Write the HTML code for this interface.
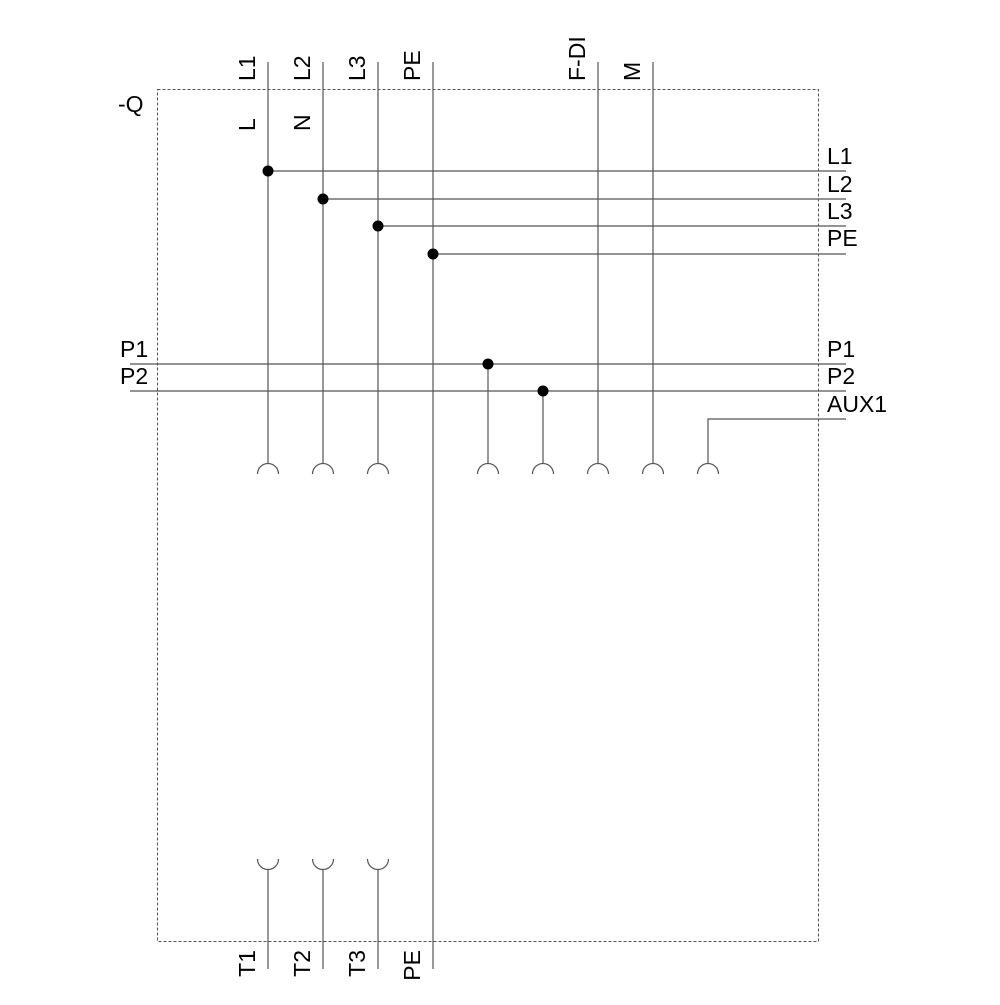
<!DOCTYPE html>
<html><head><meta charset="utf-8"><style>html,body{margin:0;padding:0;background:#fff}</style></head>
<body>
<svg width="1000" height="1000" xmlns="http://www.w3.org/2000/svg" font-family="Liberation Sans, sans-serif" font-size="23">
<rect x="157.5" y="89.5" width="661" height="852" fill="none" stroke="#555" stroke-width="1" stroke-dasharray="3,2"/>
<g stroke="#555" stroke-width="1.2" fill="none">
<line x1="268" y1="62" x2="268" y2="464"/>
<line x1="323" y1="62" x2="323" y2="464"/>
<line x1="378" y1="62" x2="378" y2="464"/>
<line x1="433" y1="62" x2="433" y2="969"/>
<line x1="598" y1="62" x2="598" y2="464"/>
<line x1="653" y1="62" x2="653" y2="464"/>
<line x1="488" y1="364" x2="488" y2="464"/>
<line x1="543" y1="391" x2="543" y2="464"/>
<polyline points="846,419 708,419 708,464"/>
<line x1="268" y1="171" x2="846" y2="171"/>
<line x1="323" y1="199" x2="846" y2="199"/>
<line x1="378" y1="226" x2="846" y2="226"/>
<line x1="433" y1="254" x2="846" y2="254"/>
<line x1="130" y1="364" x2="846" y2="364"/>
<line x1="130" y1="391" x2="846" y2="391"/>
<path d="M257.5,474 A10.5,10.5 0 0 1 278.5,474"/>
<path d="M312.5,474 A10.5,10.5 0 0 1 333.5,474"/>
<path d="M367.5,474 A10.5,10.5 0 0 1 388.5,474"/>
<path d="M477.5,474 A10.5,10.5 0 0 1 498.5,474"/>
<path d="M532.5,474 A10.5,10.5 0 0 1 553.5,474"/>
<path d="M587.5,474 A10.5,10.5 0 0 1 608.5,474"/>
<path d="M642.5,474 A10.5,10.5 0 0 1 663.5,474"/>
<path d="M697.5,474 A10.5,10.5 0 0 1 718.5,474"/>
<path d="M257.5,859 A10.5,10.5 0 0 0 278.5,859"/>
<path d="M312.5,859 A10.5,10.5 0 0 0 333.5,859"/>
<path d="M367.5,859 A10.5,10.5 0 0 0 388.5,859"/>
<line x1="268" y1="869.5" x2="268" y2="969"/>
<line x1="323" y1="869.5" x2="323" y2="969"/>
<line x1="378" y1="869.5" x2="378" y2="969"/>
</g>
<g fill="#000">
<circle cx="268" cy="171" r="5.5"/>
<circle cx="323" cy="199" r="5.5"/>
<circle cx="378" cy="226" r="5.5"/>
<circle cx="433" cy="254" r="5.5"/>
<circle cx="488" cy="364" r="5.5"/>
<circle cx="543" cy="391" r="5.5"/>
</g>
<g fill="#000">
<text transform="translate(255,81) rotate(-90)">L1</text>
<text transform="translate(310,81) rotate(-90)">L2</text>
<text transform="translate(365,81) rotate(-90)">L3</text>
<text transform="translate(420,81) rotate(-90)">PE</text>
<text transform="translate(585,81) rotate(-90)">F-DI</text>
<text transform="translate(640,81) rotate(-90)">M</text>
<text transform="translate(255,131) rotate(-90)">L</text>
<text transform="translate(310,131) rotate(-90)">N</text>
<text transform="translate(255,950) rotate(-90)" text-anchor="end">T1</text>
<text transform="translate(310,950) rotate(-90)" text-anchor="end">T2</text>
<text transform="translate(365,950) rotate(-90)" text-anchor="end">T3</text>
<text transform="translate(420,950) rotate(-90)" text-anchor="end">PE</text>
<text x="118" y="112">-Q</text>
<text x="827" y="164">L1</text>
<text x="827" y="192">L2</text>
<text x="827" y="219">L3</text>
<text x="827" y="246">PE</text>
<text x="827" y="357">P1</text>
<text x="827" y="384">P2</text>
<text x="827" y="412">AUX1</text>
<text x="120" y="357">P1</text>
<text x="120" y="384">P2</text>
</g>
</svg>
</body></html>
